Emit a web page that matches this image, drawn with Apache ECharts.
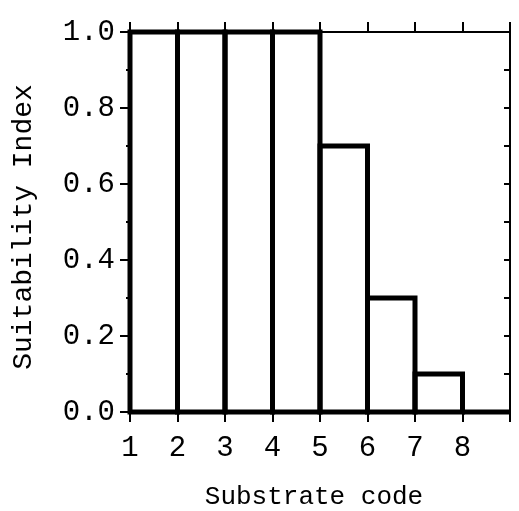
<!DOCTYPE html>
<html>
<head>
<meta charset="utf-8">
<script src="https://cdn.jsdelivr.net/npm/echarts@6/dist/echarts.min.js"></script>
<style>html,body{margin:0;padding:0;background:#fff;}#c{width:519px;height:511px;}</style>
</head>
<body>
<div id="c"></div>
<script>
var substrateCodes = [1, 2, 3, 4, 5, 6, 7, 8];
var suitability = [1.0, 1.0, 1.0, 1.0, 0.7, 0.3, 0.1, 0.0];
var xTickLabels = ['1', '2', '3', '4', '5', '6', '7', '8'];
var yTickLabels = ['0.0', '0.2', '0.4', '0.6', '0.8', '1.0'];

var FONT = '"Liberation Mono", "DejaVu Sans Mono", monospace';
var chart = echarts.init(document.getElementById('c'), null, {renderer: 'canvas'});
var data = substrateCodes.map(function (c, i) { return [c, suitability[i]]; });

chart.setOption({
  backgroundColor: '#ffffff',
  animation: false,
  grid: {left: 130, right: 9, top: 32, bottom: 99, outerBoundsMode: 'none', containLabel: false},
  xAxis: [{
    type: 'value', min: 1, max: 9, interval: 1, position: 'bottom',
    name: 'Substrate code', nameLocation: 'middle', nameGap: 72,
    nameTextStyle: {fontFamily: FONT, fontSize: 26, color: '#000', padding: [0, 12, 0, 0]},
    axisLine: {show: true, onZero: false, lineStyle: {color: '#000', width: 2}},
    axisTick: {show: true, inside: false, length: 10, lineStyle: {color: '#000', width: 2}},
    axisLabel: {show: true, margin: 22, fontFamily: FONT, fontSize: 29, color: '#000',
      formatter: function (v) { var i = substrateCodes.indexOf(v); return i >= 0 ? xTickLabels[i] : ''; }},
    splitLine: {show: false}
  }, {
    type: 'value', min: 1, max: 9, interval: 1, position: 'top',
    axisLine: {show: true, onZero: false, lineStyle: {color: '#000', width: 2}},
    axisTick: {show: true, inside: false, length: 10, lineStyle: {color: '#000', width: 2}},
    axisLabel: {show: false},
    splitLine: {show: false}
  }],
  yAxis: [{
    type: 'value', min: 0, max: 1, interval: 0.2, position: 'left',
    name: 'Suitability Index', nameLocation: 'middle', nameGap: 92,
    nameTextStyle: {fontFamily: FONT, fontSize: 28, color: '#000', padding: [0, 10, 0, 0]},
    axisLine: {show: true, onZero: false, lineStyle: {color: '#000', width: 2}},
    axisTick: {show: true, inside: false, length: 10, lineStyle: {color: '#000', width: 2}},
    minorTick: {show: true, splitNumber: 2, length: 4, lineStyle: {color: '#000', width: 2}},
    axisLabel: {show: true, margin: 15, fontFamily: FONT, fontSize: 29, color: '#000',
      formatter: function (v) { return yTickLabels[Math.round(v / 0.2)]; }},
    splitLine: {show: false}
  }, {
    type: 'value', min: 0, max: 1, interval: 0.1, position: 'right',
    axisLine: {show: true, onZero: false, lineStyle: {color: '#000', width: 2}},
    axisTick: {show: true, inside: true, length: 6, lineStyle: {color: '#000', width: 2}},
    axisLabel: {show: false},
    splitLine: {show: false}
  }],
  series: [{
    type: 'custom',
    xAxisIndex: 0, yAxisIndex: 0,
    data: data,
    clip: false,
    renderItem: function (params, api) {
      var x0 = api.value(0), v = api.value(1);
      var p0 = api.coord([x0, v]);
      var p1 = api.coord([x0 + 1, 0]);
      return {
        type: 'rect',
        shape: {x: p0[0], y: p0[1], width: p1[0] - p0[0], height: p1[1] - p0[1]},
        style: {fill: null, stroke: '#000', lineWidth: 5}
      };
    }
  }]
});
</script>
</body>
</html>
